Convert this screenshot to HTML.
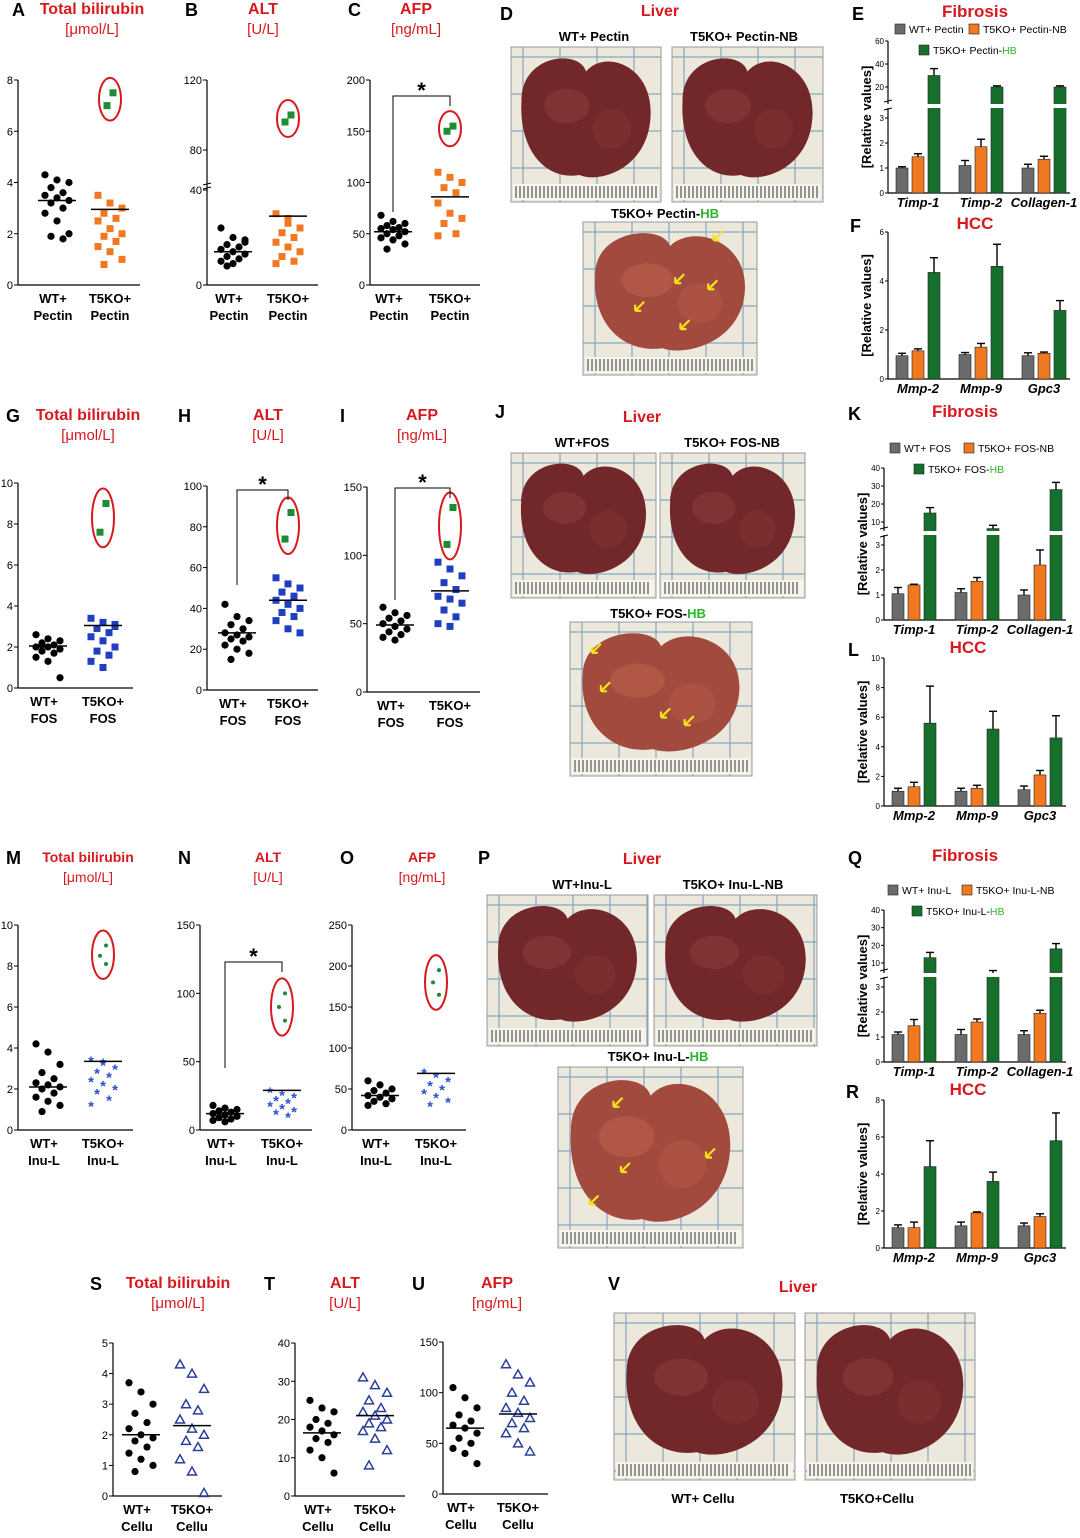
<!DOCTYPE html>
<html><head><meta charset="utf-8"><style>
html,body{margin:0;padding:0;background:#fff}
svg{display:block;font-family:"Liberation Sans",Arial,sans-serif}
</style></head><body>
<svg id="fig" width="1080" height="1538" viewBox="0 0 1080 1538" xmlns="http://www.w3.org/2000/svg"></svg>
<script>
// ---------- scatter data ----------
const aWT=[4.3,4.1,4.0,3.8,3.6,3.5,3.4,3.3,3.2,3.0,2.8,2.5,2.0,1.9,1.8];
const aKO=[3.5,3.2,3.0,2.8,2.6,2.5,2.2,2.0,1.9,1.7,1.5,1.3,1.0,0.8];
const aHB=[7.5,7.0];
const aMean=[3.3,2.95];
const bWT=[24,20,19,17,16,15,14,13,12,11,10,9,18,8];
const bKO=[30,26,24,22,20,18,16,14,12,10,9,28];
const bHB=[100,96];
const bMean=[14,29];
const cWT=[68,62,60,58,56,55,54,52,50,48,46,44,40,35];
const cKO=[110,105,100,95,90,80,70,65,60,50,48];
const cHB=[155,150];
const cMean=[52,86];
const gWT=[2.6,2.4,2.3,2.2,2.1,2.0,2.0,1.9,1.8,1.7,1.5,1.3,0.5,2.1];
const gKO=[3.4,3.2,3.0,2.9,2.7,2.5,2.3,2.0,1.8,1.6,1.3,1.0,3.1];
const gHB=[9.0,7.6];
const gMean=[2.05,3.05];
const hWT=[42,36,34,32,30,28,27,26,25,24,22,20,18,15];
const hKO=[55,52,50,48,46,44,42,40,38,36,34,30,28];
const hHB=[87,74];
const hMean=[28,44];
const iWT=[62,58,56,54,52,50,48,46,44,42,40,38];
const iKO=[95,90,85,80,75,70,68,65,60,55,50,48];
const iHB=[135,108];
const iMean=[49,74];
const mWT=[4.2,3.8,3.2,2.8,2.5,2.3,2.2,2.1,2.0,1.8,1.6,1.4,1.2,0.9];
const mKO=[3.4,3.2,3.0,2.8,2.6,2.4,2.2,2.0,1.8,1.5,1.2,3.3];
const mHB=[9.0,8.5,8.1];
const mMean=[2.1,3.35];
const nWT=[18,16,15,14,13,12,11,10,9,8,7,6];
const nKO=[28,26,24,22,20,18,16,14,12,10];
const nHB=[100,90,80];
const nMean=[12,29];
const oWT=[60,55,50,48,45,42,40,38,35,32,30];
const oKO=[70,65,60,55,50,45,40,35,30];
const oHB=[195,180,165];
const oMean=[42,69];
const sWT=[3.7,3.4,3.0,2.7,2.4,2.2,2.0,1.9,1.8,1.6,1.4,1.2,1.0,0.8];
const sKO=[4.3,4.0,3.5,3.0,2.8,2.5,2.2,2.0,1.8,1.6,1.2,0.8,0.1];
const sMean=[2.0,2.3];
const tWT=[25,23,22,20,19,18,17,16,15,14,12,10,6];
const tKO=[31,29,27,25,23,22,21,20,19,18,17,15,12,8];
const tMean=[16.5,21];
const uWT=[105,95,85,78,72,68,65,60,55,50,45,40,30];
const uKO=[128,118,110,100,92,85,80,75,70,65,60,50,42];
const uMean=[65,79];
// ---------- bar data ----------
const fibGenes=["Timp-1","Timp-2","Collagen-1"];
const hccGenes=["Mmp-2","Mmp-9","Gpc3"];
const eWT=[1.0,1.1,1.0], eKO=[1.45,1.85,1.35], eHB=[30,20,20];
const eWTerr=[0.05,0.2,0.15], eKOerr=[0.12,0.3,0.12], eHBerr=[6,1,1];
const fWT=[0.95,1.0,0.95], fKO=[1.15,1.3,1.05], fHB=[4.35,4.6,2.8];
const fWTerr=[0.1,0.08,0.12], fKOerr=[0.08,0.15,0.05], fHBerr=[0.6,0.9,0.4];
const kWT=[1.05,1.1,1.0], kKO=[1.4,1.55,2.2], kHB=[15,8,28];
const kWTerr=[0.25,0.15,0.2], kKOerr=[0.03,0.15,0.6], kHBerr=[3,1,4];
const lWT=[1.0,1.0,1.1], lKO=[1.3,1.2,2.1], lHB=[5.6,5.2,4.6];
const lWTerr=[0.2,0.2,0.25], lKOerr=[0.3,0.2,0.3], lHBerr=[2.5,1.2,1.5];
const qWT=[1.1,1.1,1.1], qKO=[1.45,1.6,1.95], qHB=[13,7,18];
const qWTerr=[0.1,0.2,0.15], qKOerr=[0.25,0.12,0.12], qHBerr=[3,0.8,3];
const rWT=[1.1,1.2,1.2], rKO=[1.1,1.9,1.7], rHB=[4.4,3.6,5.8];
const rWTerr=[0.15,0.2,0.15], rKOerr=[0.3,0.05,0.15], rHBerr=[1.4,0.5,1.5];

const NS="http://www.w3.org/2000/svg";
const svg=document.getElementById('fig');
function mk(tag,attrs,parent){const el=document.createElementNS(NS,tag);for(const k in attrs)el.setAttribute(k,attrs[k]);(parent||svg).appendChild(el);return el;}
function txt(x,y,s,size,fill,weight,anchor,parent){const t=mk('text',{x:x,y:y,'font-size':size,fill:fill||'#000','font-weight':weight||'normal','text-anchor':anchor||'middle'},parent);t.textContent=s;return t;}
function pw(dom,rng){return v=>{for(let i=0;i<dom.length-1;i++){if(v<=dom[i+1]||i==dom.length-2){return rng[i]+(v-dom[i])/(dom[i+1]-dom[i])*(rng[i+1]-rng[i]);}}};}
const RED='#d7191f',GREEN='#1d8a34';

function marker(g,type,x,y,color){
  let el;
  if(type=='circle'){el=mk('circle',{cx:x,cy:y,r:3.6,fill:color},g);}
  else if(type=='square'){el=mk('rect',{x:x-3.5,y:y-3.5,width:7,height:7,fill:color},g);}
  else if(type=='star'){el=mk('text',{x:x,y:y+6,'font-size':15,'font-weight':'bold',fill:color,'text-anchor':'middle'},g);el.textContent='*';}
  else if(type=='dot'){el=mk('circle',{cx:x,cy:y,r:2,fill:color},g);}
  else if(type=='tri'){el=mk('path',{d:`M${x} ${y-4.5}L${x+4.5} ${y+3.5}L${x-4.5} ${y+3.5}Z`,fill:'none',stroke:color,'stroke-width':1.5},g);}
  
  
}

function scatter(p){
  const g=mk('g',{});
  
  
  const y=pw(p.dom,p.rng);
  txt(p.lx,p.ly,p.letter,18,'#000','bold','start',g);
  const t1=txt(p.tx,p.ly-2,p.title,p.tsize||16,RED,'bold','middle',g);
  
  
  txt(p.tx,p.ly+18,p.unit,p.usize||15,RED,'normal','middle',g);
  const y0=y(p.dom[0]),yt=y(p.dom[p.dom.length-1]);
  const ax=mk('line',{x1:p.ax,y1:yt,x2:p.ax,y2:y0,stroke:'#000','stroke-width':1.2},g);
  
  
  mk('line',{x1:p.ax,y1:y0,x2:p.x2+30,y2:y0,stroke:'#000','stroke-width':1.2},g);
  p.ticks.forEach(v=>{const yy=y(v);mk('line',{x1:p.ax-4,y1:yy,x2:p.ax,y2:yy,stroke:'#000'},g);txt(p.ax-5,yy+4,String(v),11,'#000','normal','end',g);});
  if(p.brk){const yb=p.brk;mk('line',{x1:p.ax-4,y1:yb-3,x2:p.ax+4,y2:yb-5,stroke:'#000'},g);mk('line',{x1:p.ax-4,y1:yb+1,x2:p.ax+4,y2:yb-1,stroke:'#000'},g);}
  const cx=[p.x1,p.x2];
  [p.wt,p.ko].forEach((arr,gi)=>{
    arr.forEach((v,i)=>{const off=(((i*7)%5)-2)*6;marker(g,gi==0?'circle':p.koM,cx[gi]+off,y(v),gi==0?'#000':p.koC);});
    const my=y(p.mean[gi]);mk('line',{x1:cx[gi]-19,y1:my,x2:cx[gi]+19,y2:my,stroke:'#000','stroke-width':1.5},g);
  });
  if(p.hb){
    const ys=p.hb.map(y);const top=Math.min(...ys),bot=Math.max(...ys);
    p.hb.forEach((v,i)=>marker(g,p.hbM,p.x2+(i%2?-3:3),y(v),GREEN));
    const el=mk('ellipse',{cx:p.x2,cy:(top+bot)/2,rx:11,ry:(bot-top)/2+15,fill:'none',stroke:RED,'stroke-width':2},g);
    
    
  }
  if(p.sig){const yy=p.sig;mk('path',{d:`M${p.x1} ${p.sigL}V${yy}H${p.x2}V${yy+10}`,fill:'none',stroke:'#000'},g);txt((p.x1+p.x2)/2,yy+2,'*',22,'#000','bold','middle',g);}
  const lab=p.labs;
  txt(p.x1-4,y0+18,'WT+',13,'#000','bold','middle',g);txt(p.x1-4,y0+35,lab,13,'#000','bold','middle',g);
  txt(p.x2,y0+18,'T5KO+',13,'#000','bold','middle',g);txt(p.x2,y0+35,lab,13,'#000','bold','middle',g);
}

const panels=[
 {letter:'A',lx:12,ly:16,tx:92,title:'Total bilirubin',unit:'[μmol/L]',ax:18,dom:[0,8],rng:[285,80],ticks:[0,2,4,6,8],x1:57,x2:110,wt:aWT,ko:aKO,hb:aHB,mean:aMean,koM:'square',koC:'#f07820',hbM:'square',labs:'Pectin'},
 {letter:'B',lx:185,ly:16,tx:263,title:'ALT',unit:'[U/L]',ax:207,dom:[0,40,80,120],rng:[285,190,150,80],ticks:[0,40,80,120],brk:188,x1:233,x2:288,wt:bWT,ko:bKO,hb:bHB,mean:bMean,koM:'square',koC:'#f07820',hbM:'square',labs:'Pectin'},
 {letter:'C',lx:348,ly:16,tx:416,title:'AFP',unit:'[ng/mL]',ax:370,dom:[0,200],rng:[285,80],ticks:[0,50,100,150,200],x1:393,x2:450,wt:cWT,ko:cKO,hb:cHB,mean:cMean,koM:'square',koC:'#f07820',hbM:'square',labs:'Pectin',sig:96,sigL:212},
 {letter:'G',lx:6,ly:422,tx:88,title:'Total bilirubin',unit:'[μmol/L]',ax:18,dom:[0,10],rng:[688,483],ticks:[0,2,4,6,8,10],x1:48,x2:103,wt:gWT,ko:gKO,hb:gHB,mean:gMean,koM:'square',koC:'#1f3fc0',hbM:'square',labs:'FOS'},
 {letter:'H',lx:178,ly:422,tx:268,title:'ALT',unit:'[U/L]',ax:207,dom:[0,100],rng:[690,486],ticks:[0,20,40,60,80,100],x1:237,x2:288,wt:hWT,ko:hKO,hb:hHB,mean:hMean,koM:'square',koC:'#1f3fc0',hbM:'square',labs:'FOS',sig:490,sigL:585},
 {letter:'I',lx:340,ly:422,tx:422,title:'AFP',unit:'[ng/mL]',ax:367,dom:[0,150],rng:[692,487],ticks:[0,50,100,150],x1:395,x2:450,wt:iWT,ko:iKO,hb:iHB,mean:iMean,koM:'square',koC:'#1f3fc0',hbM:'square',labs:'FOS',sig:488,sigL:600},
 {letter:'M',lx:6,ly:864,tx:88,title:'Total bilirubin',unit:'[μmol/L]',tsize:14,usize:14,ax:18,dom:[0,10],rng:[1130,925],ticks:[0,2,4,6,8,10],x1:48,x2:103,wt:mWT,ko:mKO,hb:mHB,mean:mMean,koM:'star',koC:'#2a4fd0',hbM:'dot',labs:'Inu-L'},
 {letter:'N',lx:178,ly:864,tx:268,title:'ALT',unit:'[U/L]',tsize:14,usize:14,ax:200,dom:[0,150],rng:[1130,925],ticks:[0,50,100,150],x1:225,x2:282,wt:nWT,ko:nKO,hb:nHB,mean:nMean,koM:'star',koC:'#2a4fd0',hbM:'dot',labs:'Inu-L',sig:962,sigL:1068},
 {letter:'O',lx:340,ly:864,tx:422,title:'AFP',unit:'[ng/mL]',tsize:14,usize:14,ax:352,dom:[0,250],rng:[1130,925],ticks:[0,50,100,150,200,250],x1:380,x2:436,wt:oWT,ko:oKO,hb:oHB,mean:oMean,koM:'star',koC:'#2a4fd0',hbM:'dot',labs:'Inu-L'},
 {letter:'S',lx:90,ly:1290,tx:178,title:'Total bilirubin',unit:'[μmol/L]',ax:113,dom:[0,5],rng:[1496,1343],ticks:[0,1,2,3,4,5],x1:141,x2:192,wt:sWT,ko:sKO,mean:sMean,koM:'tri',koC:'#2a3f9a',labs:'Cellu'},
 {letter:'T',lx:264,ly:1290,tx:345,title:'ALT',unit:'[U/L]',ax:295,dom:[0,40],rng:[1496,1343],ticks:[0,10,20,30,40],x1:322,x2:375,wt:tWT,ko:tKO,mean:tMean,koM:'tri',koC:'#2a3f9a',labs:'Cellu'},
 {letter:'U',lx:412,ly:1290,tx:497,title:'AFP',unit:'[ng/mL]',ax:443,dom:[0,150],rng:[1494,1342],ticks:[0,50,100,150],x1:465,x2:518,wt:uWT,ko:uKO,mean:uMean,koM:'tri',koC:'#2a3f9a',labs:'Cellu'}
];
panels.forEach(scatter);

// ---------- bar charts ----------
function bars(p){
  const g=mk('g',{});
  
  
  const y=pw(p.dom,p.rng);
  txt(p.lx,p.ly,p.letter,18,'#000','bold','start',g);
  txt(p.tx,p.ly-3,p.title,17,RED,'bold','middle',g);
  const y0=p.rng[0],yt=p.rng[p.rng.length-1];
  const ax=mk('line',{x1:p.ax,y1:yt,x2:p.ax,y2:y0,stroke:'#000','stroke-width':1.2},g);
  
  
  mk('line',{x1:p.ax,y1:y0,x2:p.ax+182,y2:y0,stroke:'#000','stroke-width':1.2},g);
  p.ticks.forEach(v=>{const yy=y(v);mk('line',{x1:p.ax-3,y1:yy,x2:p.ax,y2:yy,stroke:'#000'},g);txt(p.ax-4,yy+3,String(v),8,'#000','normal','end',g);});
  if(p.brk){mk('rect',{x:p.ax-5,y:p.brk-2,width:190,height:4,fill:'#fff'},g);mk('line',{x1:p.ax-4,y1:p.brk-4,x2:p.ax+4,y2:p.brk-6,stroke:'#000'},g);mk('line',{x1:p.ax-4,y1:p.brk+4,x2:p.ax+4,y2:p.brk+2,stroke:'#000'},g);}
  const yl=txt(0,0,'[Relative values]',13,'#000','bold','middle',g);
  yl.setAttribute('transform',`translate(${p.ax-17},${(y0+yt)/2}) rotate(-90)`);
  
  
  const cols=['#6b6b6b','#f07820','#16702c'];
  const series=[p.wt,p.ko,p.hb],errs=[p.wte,p.koe,p.hbe];
  p.genes.forEach((gn,gi)=>{
    const gx=p.ax+8+gi*63;
    series.forEach((s,si)=>{
      const x=gx+si*16,top=y(s[gi]),bt=y(s[gi]+errs[si][gi]);
      mk('line',{x1:x+6,y1:top,x2:x+6,y2:bt,stroke:'#000','stroke-width':1.4},g);
      mk('line',{x1:x+2,y1:bt,x2:x+10,y2:bt,stroke:'#000','stroke-width':1.4},g);
      const r=mk('rect',{x:x,y:top,width:12,height:y0-top,fill:cols[si],stroke:'#222','stroke-width':0.6},g);
      
      
    });
    const lt=txt(gx+22,y0+14,gn,13,'#000','bold','middle',g);lt.setAttribute('font-style','italic');
  });
  if(p.brk){p.genes.forEach((gn,gi)=>{const gx=p.ax+8+gi*63+32;mk('rect',{x:gx-1,y:p.brk-2,width:14,height:4,fill:'#fff'},g);});}
  if(p.leg){
    const L=p.leg;
    const items=[[L.x,L.y,cols[0],L.a],[L.x+74,L.y,cols[1],L.b],[L.x+24,L.y+21,cols[2],L.c]];
    items.forEach((it,ii)=>{
      const le=mk('g',{},g);
      
      
      mk('rect',{x:it[0],y:it[1]-9,width:10,height:10,fill:it[2],stroke:'#222','stroke-width':0.6},le);
      const t=txt(it[0]+14,it[1],'',10.5,'#000','normal','start',le);
      t.textContent=it[3];
      if(ii==2){const sp=document.createElementNS(NS,'tspan');sp.setAttribute('fill','#2bb52b');sp.textContent='HB';t.appendChild(sp);}
    });
  }
}
const barPanels=[
 {letter:'E',lx:852,ly:20,tx:975,title:'Fibrosis',ax:888,dom:[0,3,10,20,40,60],rng:[193,118,105,87,64,41],ticks:[0,1,2,3,20,40,60],brk:106,genes:fibGenes,wt:eWT,ko:eKO,hb:eHB,wte:eWTerr,koe:eKOerr,hbe:eHBerr,leg:{x:895,y:33,a:'WT+ Pectin',b:'T5KO+ Pectin-NB',c:'T5KO+ Pectin-'}},
 {letter:'F',lx:850,ly:232,tx:975,title:'HCC',ax:888,dom:[0,6],rng:[379,232],ticks:[0,2,4,6],genes:hccGenes,wt:fWT,ko:fKO,hb:fHB,wte:fWTerr,koe:fKOerr,hbe:fHBerr},
 {letter:'K',lx:848,ly:420,tx:965,title:'Fibrosis',ax:884,dom:[0,3,10,40],rng:[620,545,522,468],ticks:[0,1,2,3,10,20,30,40],brk:533,genes:fibGenes,wt:kWT,ko:kKO,hb:kHB,wte:kWTerr,koe:kKOerr,hbe:kHBerr,leg:{x:890,y:452,a:'WT+ FOS',b:'T5KO+ FOS-NB',c:'T5KO+ FOS-'}},
 {letter:'L',lx:848,ly:656,tx:968,title:'HCC',ax:884,dom:[0,10],rng:[806,658],ticks:[0,2,4,6,8,10],genes:hccGenes,wt:lWT,ko:lKO,hb:lHB,wte:lWTerr,koe:lKOerr,hbe:lHBerr},
 {letter:'Q',lx:848,ly:864,tx:965,title:'Fibrosis',ax:884,dom:[0,3,10,40],rng:[1062,987,963,910],ticks:[0,1,2,3,10,20,30,40],brk:975,genes:fibGenes,wt:qWT,ko:qKO,hb:qHB,wte:qWTerr,koe:qKOerr,hbe:qHBerr,leg:{x:888,y:894,a:'WT+ Inu-L',b:'T5KO+ Inu-L-NB',c:'T5KO+ Inu-L-'}},
 {letter:'R',lx:846,ly:1098,tx:968,title:'HCC',ax:884,dom:[0,8],rng:[1248,1100],ticks:[0,2,4,6,8],genes:hccGenes,wt:rWT,ko:rKO,hb:rHB,wte:rWTerr,koe:rKOerr,hbe:rHBerr}
];
barPanels.forEach(bars);

// ---------- liver photos ----------
function liver(x,y,w,h,hb,name,arrows,ruler){
  const g=mk('g',{});
  
  
  mk('rect',{x:x,y:y,width:w,height:h,fill:'#ede8dc',stroke:'#999'},g);
  for(let gx=x+12;gx<x+w;gx+=37)mk('line',{x1:gx,y1:y,x2:gx,y2:y+h,stroke:'#86a7bf','stroke-width':1.2},g);
  for(let gy=y+10;gy<y+h;gy+=37)mk('line',{x1:x,y1:gy,x2:x+w,y2:gy,stroke:'#86a7bf','stroke-width':1.2},g);
  const rh=ruler===false?0:18;
  if(rh){mk('rect',{x:x+2,y:y+h-rh,width:w-4,height:rh-2,fill:'#f6f4ee'},g);
    for(let t=x+5;t<x+w-4;t+=4)mk('line',{x1:t,y1:y+h-rh+2,x2:t,y2:y+h-4,stroke:'#333','stroke-width':1},g);}
  const c=hb?'#a24a3d':'#72272b',c2=hb?'#b9604d':'#8a3a3a';
  const cx=x+w/2,cy=y+(h-rh)/2+2,rw=w*0.43,rhh=(h-rh)*0.42;
  mk('path',{d:`M${cx-rw} ${cy-rhh*0.3}C${cx-rw} ${cy-rhh*1.1},${cx-rw*0.1} ${cy-rhh*1.2},${cx} ${cy-rhh*0.8}C${cx+rw*0.3} ${cy-rhh*1.2},${cx+rw*1.05} ${cy-rhh*0.9},${cx+rw} ${cy}C${cx+rw*0.95} ${cy+rhh*0.9},${cx+rw*0.2} ${cy+rhh*1.15},${cx-rw*0.1} ${cy+rhh}C${cx-rw*0.6} ${cy+rhh*1.1},${cx-rw*1.05} ${cy+rhh*0.6},${cx-rw} ${cy-rhh*0.3}Z`,fill:c},g);
  mk('ellipse',{cx:cx-rw*0.3,cy:cy-rhh*0.2,rx:rw*0.35,ry:rhh*0.3,fill:c2,opacity:0.6},g);
  mk('ellipse',{cx:cx+rw*0.4,cy:cy+rhh*0.2,rx:rw*0.3,ry:rhh*0.35,fill:c2,opacity:0.4},g);
  (arrows||[]).forEach(a=>{const ax=x+a[0]*w,ay=y+a[1]*h;mk('path',{d:`M${ax+9} ${ay-9}L${ax} ${ay}M${ax} ${ay}l6 0M${ax} ${ay}l0 -6`,stroke:'#f5e21a','stroke-width':2.2,fill:'none'},g);});
}
function lab(x,y,s,size,col,bold){const t=txt(x,y,s,size||13,col||'#000',bold===false?'normal':'bold','middle');return t;}
function hbLab(x,y,pre){const t=lab(x,y,pre,13);const sp=document.createElementNS(NS,'tspan');sp.setAttribute('fill','#2bb52b');sp.textContent='HB';t.appendChild(sp);}
// D
txt(500,20,'D',18,'#000','bold','start');lab(660,16,'Liver',16,RED);
lab(594,41,'WT+ Pectin');lab(744,41,'T5KO+ Pectin-NB');
liver(511,47,150,155,false,'liver-photo-wt-pectin');liver(672,47,151,155,false,'liver-photo-t5ko-pectin-nb');
hbLab(665,218,'T5KO+ Pectin-');liver(583,222,174,153,true,'liver-photo-t5ko-pectin-hb',[[0.75,0.12],[0.53,0.4],[0.72,0.44],[0.3,0.58],[0.56,0.7]]);
// J
txt(495,418,'J',18,'#000','bold','start');lab(642,422,'Liver',16,RED);
lab(582,447,'WT+FOS');lab(732,447,'T5KO+ FOS-NB');
liver(511,453,145,145,false,'liver-photo-wt-fos');liver(660,453,145,145,false,'liver-photo-t5ko-fos-nb');
hbLab(658,618,'T5KO+ FOS-');liver(570,622,182,154,true,'liver-photo-t5ko-fos-hb',[[0.12,0.2],[0.17,0.45],[0.5,0.62],[0.63,0.67]]);
// P
txt(478,864,'P',18,'#000','bold','start');lab(642,864,'Liver',16,RED);
lab(582,889,'WT+Inu-L');lab(733,889,'T5KO+ Inu-L-NB');
liver(487,895,161,151,false,'liver-photo-wt-inu-l');liver(654,895,163,151,false,'liver-photo-t5ko-inu-l-nb');
hbLab(658,1061,'T5KO+ Inu-L-');liver(558,1067,185,181,true,'liver-photo-t5ko-inu-l-hb',[[0.3,0.22],[0.8,0.5],[0.34,0.58],[0.17,0.76]]);
// V
txt(608,1290,'V',18,'#000','bold','start');lab(798,1292,'Liver',16,RED);
liver(614,1313,181,167,false,'liver-photo-wt-cellu');liver(805,1313,170,167,false,'liver-photo-t5ko-cellu');
lab(703,1503,'WT+ Cellu');lab(877,1503,'T5KO+Cellu');
</script>
</body></html>
